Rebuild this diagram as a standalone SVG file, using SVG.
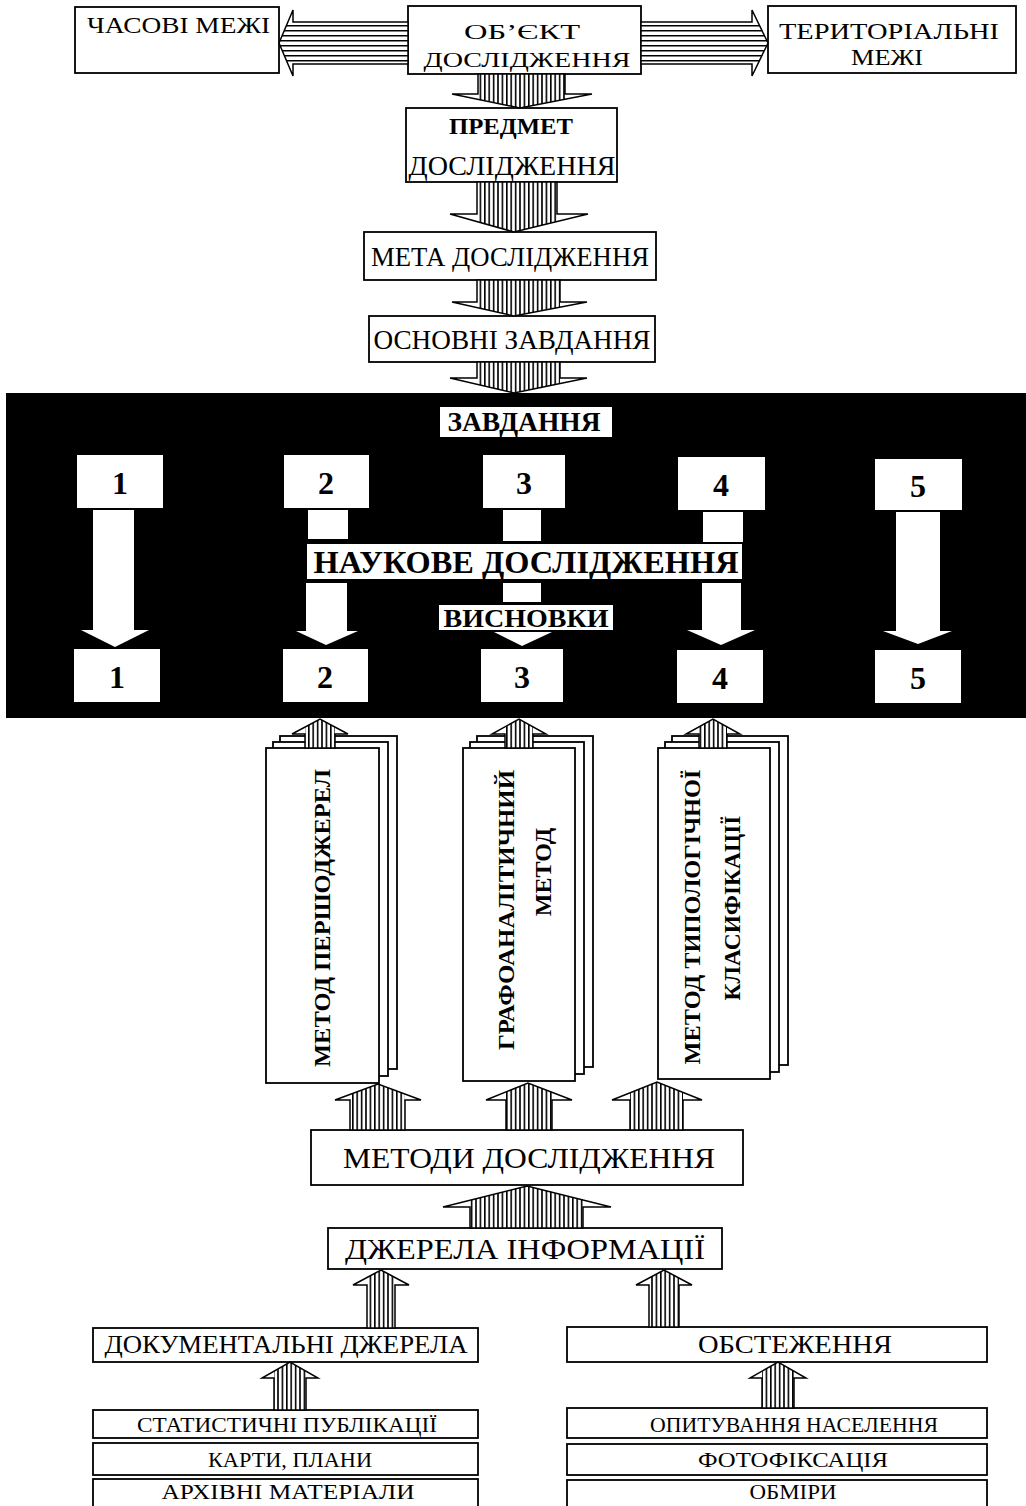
<svg xmlns="http://www.w3.org/2000/svg" width="1026" height="1506" viewBox="0 0 1026 1506">
<style>
.bx{fill:#fff;stroke:#000;stroke-width:1.8}
.ar{fill:#fff;stroke:#000;stroke-width:1.5;stroke-linejoin:miter}
.hv{fill:url(#vs)}
.hh{fill:url(#hs)}
.wt{fill:#fff}
text{font-family:"Liberation Serif","DejaVu Serif",serif;fill:#000}
.b{font-weight:bold}
.num{font-size:32px;font-weight:bold;text-anchor:middle}
.m{text-anchor:middle}
.rt{font-size:24px;font-weight:bold;text-anchor:middle}
</style>
<defs>
<pattern id="vs" width="4.4" height="10" patternUnits="userSpaceOnUse"><rect x="0" y="0" width="1.6" height="10" fill="#000"/></pattern>
<pattern id="hs" width="10" height="5" patternUnits="userSpaceOnUse"><rect x="0" y="0" width="10" height="1.5" fill="#000"/></pattern>
</defs>
<rect width="1026" height="1506" fill="#fff"/>

<g id="chasovi">
<rect class="bx" x="75" y="7" width="204" height="66"/>
<text x="87" y="33" font-size="24" textLength="183" lengthAdjust="spacingAndGlyphs">ЧАСОВІ МЕЖІ</text>
</g>
<g id="obiekt">
<rect class="bx" x="408" y="6" width="233" height="68"/>
<text class="m" x="522" y="39" font-size="22" textLength="116" lengthAdjust="spacingAndGlyphs">ОБ’ЄКТ</text>
<text class="m" x="527" y="67" font-size="22" textLength="207" lengthAdjust="spacingAndGlyphs">ДОСЛІДЖЕННЯ</text>
</g>
<g id="terytorialni">
<rect class="bx" x="768" y="6" width="248" height="67"/>
<text class="m" x="889" y="39" font-size="23" textLength="220" lengthAdjust="spacingAndGlyphs">ТЕРИТОРІАЛЬНІ</text>
<text class="m" x="887" y="65" font-size="23" textLength="72" lengthAdjust="spacingAndGlyphs">МЕЖІ</text>
</g>
<g id="predmet">
<rect class="bx" x="406" y="108" width="211" height="74"/>
<text class="m b" x="511" y="134" font-size="24" textLength="124" lengthAdjust="spacingAndGlyphs">ПРЕДМЕТ</text>
<text class="m" x="512" y="175" font-size="27" textLength="207" lengthAdjust="spacingAndGlyphs">ДОСЛІДЖЕННЯ</text>
</g>
<g id="meta">
<rect class="bx" x="364" y="232" width="292" height="48"/>
<text class="m" x="510" y="266" font-size="27" textLength="278" lengthAdjust="spacingAndGlyphs">МЕТА ДОСЛІДЖЕННЯ</text>
</g>
<g id="osnovni">
<rect class="bx" x="369" y="316" width="286" height="46"/>
<text class="m" x="512" y="349" font-size="27" textLength="277" lengthAdjust="spacingAndGlyphs">ОСНОВНІ ЗАВДАННЯ</text>
</g>

<g id="panel">
<rect x="6" y="393" width="1020" height="325" fill="#000"/>
</g>
<g id="zavdannia">
<rect class="wt" x="440" y="407" width="172" height="30"/>
<text class="m b" x="524" y="431" font-size="27" textLength="153" lengthAdjust="spacingAndGlyphs">ЗАВДАННЯ</text>
</g>
<g id="task1"><rect class="wt" x="77" y="455" width="86" height="53"/><text class="num" x="120" y="494">1</text></g>
<g id="task2"><rect class="wt" x="284" y="455" width="85" height="53"/><text class="num" x="326" y="494">2</text></g>
<g id="task3"><rect class="wt" x="483" y="455" width="82" height="53"/><text class="num" x="524" y="494">3</text></g>
<g id="task4"><rect class="wt" x="678" y="457" width="87" height="53"/><text class="num" x="721" y="496">4</text></g>
<g id="task5"><rect class="wt" x="875" y="459" width="87" height="51"/><text class="num" x="918" y="497">5</text></g>
<g id="naukove">
<rect class="wt" x="307" y="544" width="435" height="35"/>
<text class="m b" x="526" y="573" font-size="31" textLength="425" lengthAdjust="spacingAndGlyphs">НАУКОВЕ ДОСЛІДЖЕННЯ</text>
</g>
<g id="vysnovky">
<rect class="wt" x="439" y="605" width="174" height="25"/>
<text class="m b" x="526" y="627" font-size="26" textLength="165" lengthAdjust="spacingAndGlyphs">ВИСНОВКИ</text>
</g>
<g id="res1"><rect class="wt" x="74" y="649" width="86" height="53"/><text class="num" x="117" y="688">1</text></g>
<g id="res2"><rect class="wt" x="283" y="649" width="85" height="53"/><text class="num" x="325" y="688">2</text></g>
<g id="res3"><rect class="wt" x="481" y="649" width="82" height="53"/><text class="num" x="522" y="688">3</text></g>
<g id="res4"><rect class="wt" x="677" y="650" width="86" height="53"/><text class="num" x="720" y="689">4</text></g>
<g id="res5"><rect class="wt" x="875" y="650" width="86" height="53"/><text class="num" x="918" y="689">5</text></g>

<g id="method1">
<rect class="bx" x="280" y="736" width="117" height="333"/>
<rect class="bx" x="273" y="742" width="115" height="334"/>
<rect class="bx" x="266" y="748" width="113" height="335"/>
<text class="rt" transform="translate(330,918) rotate(-90)" textLength="298" lengthAdjust="spacingAndGlyphs">МЕТОД ПЕРШОДЖЕРЕЛ</text>
</g>
<g id="method2">
<rect class="bx" x="477" y="736" width="116" height="331"/>
<rect class="bx" x="470" y="742" width="114" height="332"/>
<rect class="bx" x="463" y="748" width="112" height="333"/>
<text class="rt" transform="translate(514,910) rotate(-90)" textLength="280" lengthAdjust="spacingAndGlyphs">ГРАФОАНАЛІТИЧНИЙ</text>
<text class="rt" transform="translate(551,872) rotate(-90)">МЕТОД</text>
</g>
<g id="method3">
<rect class="bx" x="672" y="736" width="116" height="329"/>
<rect class="bx" x="665" y="742" width="114" height="330"/>
<rect class="bx" x="658" y="748" width="112" height="331"/>
<text class="rt" transform="translate(700,917) rotate(-90)" textLength="295" lengthAdjust="spacingAndGlyphs">МЕТОД ТИПОЛОГІЧНОЇ</text>
<text class="rt" transform="translate(740,908) rotate(-90)" textLength="185" lengthAdjust="spacingAndGlyphs">КЛАСИФІКАЦІЇ</text>
</g>

<g id="metody">
<rect class="bx" x="311" y="1130" width="432" height="55"/>
<text class="m" x="529" y="1168" font-size="29" textLength="372" lengthAdjust="spacingAndGlyphs">МЕТОДИ ДОСЛІДЖЕННЯ</text>
</g>
<g id="dzherela">
<rect class="bx" x="328" y="1228" width="394" height="41"/>
<text class="m" x="525" y="1259" font-size="29" textLength="360" lengthAdjust="spacingAndGlyphs">ДЖЕРЕЛА ІНФОРМАЦІЇ</text>
</g>
<g id="dokumentalni">
<rect class="bx" x="93" y="1328" width="385" height="34"/>
<text class="m" x="286" y="1353" font-size="26" textLength="363" lengthAdjust="spacingAndGlyphs">ДОКУМЕНТАЛЬНІ ДЖЕРЕЛА</text>
</g>
<g id="obstezhennia">
<rect class="bx" x="567" y="1327" width="420" height="35"/>
<text class="m" x="795" y="1353" font-size="26" textLength="194" lengthAdjust="spacingAndGlyphs">ОБСТЕЖЕННЯ</text>
</g>
<g id="statystychni">
<rect class="bx" x="93" y="1410" width="385" height="28"/>
<text class="m" x="287" y="1432" font-size="20" textLength="300" lengthAdjust="spacingAndGlyphs">СТАТИСТИЧНІ ПУБЛІКАЦІЇ</text>
</g>
<g id="karty">
<rect class="bx" x="93" y="1443" width="385" height="32"/>
<text class="m" x="290" y="1467" font-size="21" textLength="164" lengthAdjust="spacingAndGlyphs">КАРТИ, ПЛАНИ</text>
</g>
<g id="arkhivni">
<rect class="bx" x="93" y="1479" width="385" height="34"/>
<text class="m" x="288" y="1499" font-size="21" textLength="253" lengthAdjust="spacingAndGlyphs">АРХІВНІ МАТЕРІАЛИ</text>
</g>
<g id="opytuvannia">
<rect class="bx" x="567" y="1408" width="420" height="30"/>
<text class="m" x="794" y="1432" font-size="20" textLength="288" lengthAdjust="spacingAndGlyphs">ОПИТУВАННЯ НАСЕЛЕННЯ</text>
</g>
<g id="fotofiksatsiia">
<rect class="bx" x="567" y="1444" width="420" height="31"/>
<text class="m" x="793" y="1467" font-size="21" textLength="190" lengthAdjust="spacingAndGlyphs">ФОТОФІКСАЦІЯ</text>
</g>
<g id="obmiry">
<rect class="bx" x="567" y="1480" width="420" height="33"/>
<text class="m" x="793" y="1499" font-size="21" textLength="87" lengthAdjust="spacingAndGlyphs">ОБМІРИ</text>
</g>

<g id="connectors">
<polygon class="ar" points="408,22 293,22 293,10 279,43 293,76 293,64 408,64"/>
<polygon class="hh" points="408,22 287.9,22 279,43 287.9,64 408,64"/>
<polygon class="ar" points="641,22 752,22 752,10 768,43 752,76 752,64 641,64"/>
<polygon class="hh" points="641,22 757.8,22 768,43 757.8,64 641,64"/>

<polygon class="ar" points="478,74 565,74 565,94 592,94 520,108 452,94 478,94"/>
<polygon class="hv" points="478,74 565,74 565,99.3 520,108 478,99.3"/>
<polygon class="ar" points="477,182 557,182 557,214 588,214 514,232 450,214 477,214"/>
<polygon class="hv" points="477,182 557,182 557,221.5 514,232 477,221.6"/>
<polygon class="ar" points="477,280 560,280 560,302 587,302 514,316 452,302 477,302"/>
<polygon class="hv" points="477,280 560,280 560,307.2 514,316 477,307.6"/>
<polygon class="ar" points="477,362 560,362 560,378 587,378 514,393 450,378 477,378"/>
<polygon class="hv" points="477,362 560,362 560,383.5 514,393 477,384.3"/>

<rect class="wt" x="93" y="510" width="41" height="121"/>
<polygon class="wt" points="81,630 149,630 115,647"/>
<rect class="wt" x="308" y="510" width="40" height="29"/>
<polygon class="wt" points="306,583 347,583 347,631 358,631 326,645 296,631 306,631"/>
<rect class="wt" x="503" y="510" width="38" height="31"/>
<rect class="wt" x="503" y="583" width="38" height="19"/>
<polygon class="wt" points="494,632 552,632 522,646"/>
<rect class="wt" x="703" y="512" width="40" height="30"/>
<polygon class="wt" points="702,583 741,583 741,630 755,630 721,645 687,630 702,630"/>
<rect class="wt" x="896" y="512" width="44" height="120"/>
<polygon class="wt" points="883,631 952,631 918,644"/>

<polygon class="ar" points="305,748 335,748 335,734 348,734 320,719 292,734 305,734"/>
<polygon class="hv" points="305,748 335,748 335,727 320,719 305,727"/>
<polygon class="ar" points="505,748 533,748 533,734 546,734 519,719 492,734 505,734"/>
<polygon class="hv" points="505,748 533,748 533,727 519,719 505,727"/>
<polygon class="ar" points="699,748 727,748 727,734 740,734 713,719 686,734 699,734"/>
<polygon class="hv" points="699,748 727,748 727,727 713,719 699,727"/>

<polygon class="ar" points="350,1130 405,1130 405,1100 421,1100 378,1084 335,1100 350,1100"/>
<polygon class="hv" points="350,1130 405,1130 405,1094 378,1084 350,1094.4"/>
<polygon class="ar" points="506,1130 552,1130 552,1100 572,1100 528,1083 486,1100 506,1100"/>
<polygon class="hv" points="506,1130 552,1130 552,1092.3 528,1083 506,1091.9"/>
<polygon class="ar" points="630,1130 683,1130 683,1100 702,1100 657,1082 612,1100 630,1100"/>
<polygon class="hv" points="630,1130 683,1130 683,1092.4 657,1082 630,1092.8"/>

<polygon class="ar" points="470,1228 583,1228 583,1207 611,1207 527,1186 443,1207 470,1207"/>
<polygon class="hv" points="470,1228 583,1228 583,1200 527,1186 470,1200.3"/>
<polygon class="ar" points="367,1328 395,1328 395,1285 409,1285 381,1270 353,1285 367,1285"/>
<polygon class="hv" points="367,1328 395,1328 395,1277.5 381,1270 367,1277.5"/>
<polygon class="ar" points="649,1327 679,1327 679,1285 692,1285 664,1270 636,1285 649,1285"/>
<polygon class="hv" points="649,1327 679,1327 679,1278 664,1270 649,1278"/>
<polygon class="ar" points="274,1410 306,1410 306,1378 318,1378 290,1362 262,1378 274,1378"/>
<polygon class="hv" points="274,1410 306,1410 306,1371.1 290,1362 274,1371.1"/>
<polygon class="ar" points="762,1408 794,1408 794,1378 806,1378 778,1362 750,1378 762,1378"/>
<polygon class="hv" points="762,1408 794,1408 794,1371.1 778,1362 762,1371.1"/>
</g>
</svg>
